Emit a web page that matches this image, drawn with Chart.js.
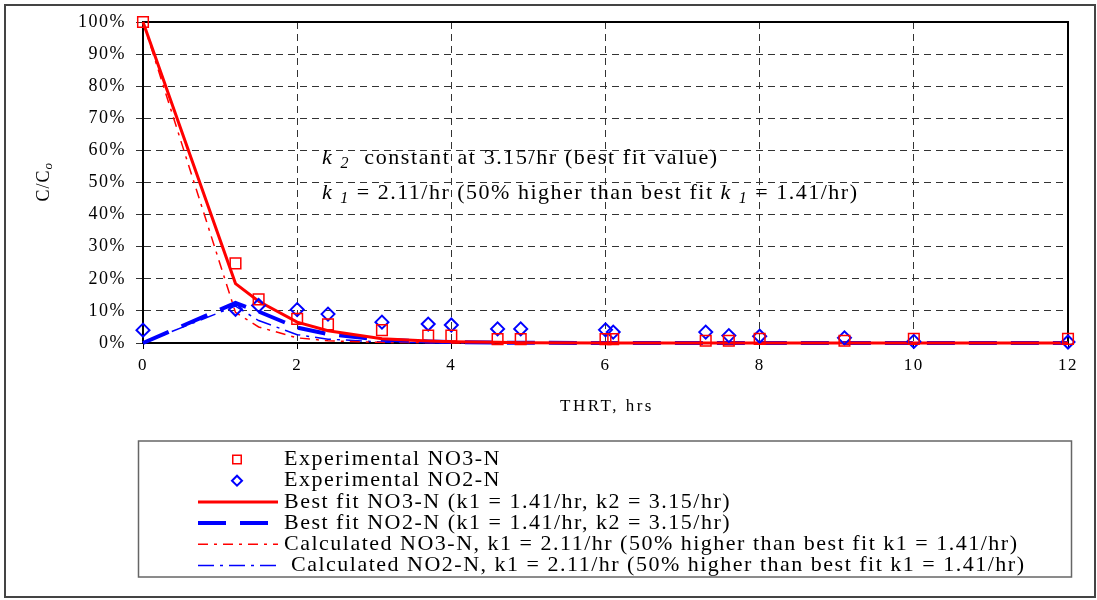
<!DOCTYPE html>
<html>
<head>
<meta charset="utf-8">
<script src="https://cdn.jsdelivr.net/npm/chart.js@4.4.1/dist/chart.umd.min.js"></script>
<style>
  html, body { margin: 0; padding: 0; background: #fff; }
  #wrap { width: 1097px; height: 600px; }
</style>
</head>
<body>
<div id="wrap"><canvas id="chart" width="1097" height="600"></canvas></div>
<script>
// sampling times, hrs
const thrt = [0, 1.2, 1.5, 2.0, 2.4, 3.1, 3.7, 4.0, 4.6, 4.9, 6.0, 6.1, 7.3, 7.6, 8.0, 9.1, 10.0, 12.0];

// C/Co in percent
const expNO3  = [100, 24.8, 13.6, 7.5, 5.8, 4.0, 2.3, 2.3, 1.2, 1.2, 1.2, 1.2, 0.7, 0.7, 1.3, 0.7, 1.3, 1.3];
const expNO2  = [4.0, 10.5, 11.7, 10.4, 9.0, 6.5, 5.9, 5.6, 4.4, 4.4, 4.1, 3.4, 3.4, 2.3, 2.1, 1.6, 0.5, 0.3];
const fitNO3  = [100, 18.5, 13.0, 6.5, 3.8, 1.3, 0.6, 0.4, 0.2, 0.1, 0, 0, 0, 0, 0, 0, 0, 0];
const fitNO2  = [0, 12.5, 9.8, 4.8, 2.8, 1.0, 0.5, 0.3, 0.1, 0.1, 0, 0, 0, 0, 0, 0, 0, 0];
const calcNO3 = [100, 9.5, 5.0, 1.6, 0.7, 0.2, 0.1, 0, 0, 0, 0, 0, 0, 0, 0, 0, 0, 0];
const calcNO2 = [0, 11.5, 7.0, 2.6, 1.2, 0.3, 0.1, 0, 0, 0, 0, 0, 0, 0, 0, 0, 0, 0];

const xTicks = [0, 2, 4, 6, 8, 10, 12];

const pts = arr => arr.map((v, i) => ({ x: thrt[i], y: v }));
const SERIF = '"Liberation Serif", "Times New Roman", serif';

// text with italic / subscript pieces
function drawRuns(ctx, runs, x, y, size) {
  runs.forEach(([t, style]) => {
    const sub = style === 'sub';
    const it = style === 'i' || sub;
    const fs = sub ? Math.round(size * 0.72) : size;
    ctx.font = (it ? 'italic ' : '') + fs + 'px ' + SERIF;
    ctx.fillText(t, x, y + (sub ? size * 0.28 : 0));
    x += ctx.measureText(t).width;
  });
}

const extras = {
  id: 'extras',
  beforeDraw(chart) {
    chart.ctx.letterSpacing = '1.5px';
  },
  beforeDatasetsDraw(chart) {
    const { ctx, chartArea: a } = chart;
    ctx.save();
    ctx.strokeStyle = '#000';
    ctx.lineWidth = 2;
    ctx.beginPath();
    ctx.moveTo(a.left, a.top);
    ctx.lineTo(a.right, a.top);
    ctx.lineTo(a.right, a.bottom);
    ctx.stroke();
    ctx.restore();
  },
  afterDraw(chart) {
    const ctx = chart.ctx;
    ctx.save();
    ctx.fillStyle = '#000';

    // annotation
    ctx.letterSpacing = '1.6px';
    ctx.textBaseline = 'middle';
    ctx.textAlign = 'left';
    drawRuns(ctx, [['k', 'i'], [' '], ['2', 'sub'], ['  constant at 3.15/hr (best fit value)']], 322, 158, 22);
    ctx.letterSpacing = '1.5px';
    drawRuns(ctx, [['k', 'i'], [' '], ['1', 'sub'], [' = 2.11/hr (50% higher than best fit '], ['k', 'i'], [' '], ['1', 'sub'], [' = 1.41/hr)']], 322, 193, 22);

    // x title
    ctx.letterSpacing = '2.5px';
    ctx.font = '17px ' + SERIF;
    ctx.textAlign = 'center';
    ctx.fillText('THRT, hrs', 607, 407);

    // y title C/Co
    ctx.save();
    ctx.translate(44, 182);
    ctx.rotate(-Math.PI / 2);
    ctx.letterSpacing = '1px';
    ctx.textAlign = 'left';
    ctx.font = '18px ' + SERIF;
    const w1 = ctx.measureText('C/C').width;
    ctx.font = '12px ' + SERIF;
    const w2 = ctx.measureText('o').width;
    drawRuns(ctx, [['C/C'], ['o', 'sub']], -(w1 + w2) / 2, 0, 18);
    ctx.restore();

    // frames
    ctx.strokeStyle = '#444';
    ctx.lineWidth = 2;
    ctx.strokeRect(5, 5, 1090, 592);
    ctx.strokeStyle = '#666';
    ctx.lineWidth = 1.5;
    ctx.strokeRect(138.5, 441, 933, 136);

    // legend rows
    ctx.textAlign = 'left';
    ctx.letterSpacing = '1.5px';
    ctx.font = '22px ' + SERIF;
    chart.data.datasets.forEach((ds, i) => {
      const y = 459.5 + i * 21.2;
      ctx.save();
      ctx.strokeStyle = ds.borderColor;
      ctx.fillStyle = 'rgba(0,0,0,0)';
      if (!ds.showLine) {
        ctx.lineWidth = ds.pointBorderWidth;
        Chart.helpers.drawPoint(ctx, { pointStyle: ds.pointStyle, radius: ds.pointRadius - 1.5, borderWidth: ds.pointBorderWidth, rotation: 0 }, 237, y);
      } else {
        ctx.lineWidth = ds.borderWidth;
        ctx.setLineDash(ds.borderDash || []);
        ctx.beginPath();
        ctx.moveTo(198, y);
        ctx.lineTo(278, y);
        ctx.stroke();
      }
      ctx.restore();
      ctx.fillText(ds.label, 284, y);
    });
    ctx.restore();
  }
};

new Chart(document.getElementById('chart'), {
  type: 'scatter',
  data: {
    datasets: [
      { label: 'Experimental NO3-N', data: pts(expNO3), showLine: false,
        pointStyle: 'rect', pointRadius: 7.5, pointBorderWidth: 1.5,
        borderColor: '#ff0000', pointBackgroundColor: 'rgba(0,0,0,0)' },
      { label: 'Experimental NO2-N', data: pts(expNO2), showLine: false,
        pointStyle: 'rectRot', pointRadius: 6.5, pointBorderWidth: 2,
        borderColor: '#0000ff', pointBackgroundColor: 'rgba(0,0,0,0)' },
      { label: 'Best fit NO3-N (k1 = 1.41/hr, k2 = 3.15/hr)', data: pts(fitNO3), showLine: true,
        borderColor: '#ff0000', borderWidth: 3, pointRadius: 0 },
      { label: 'Best fit NO2-N (k1 = 1.41/hr, k2 = 3.15/hr)', data: pts(fitNO2), showLine: true,
        borderColor: '#0000ff', borderWidth: 4, borderDash: [28, 14], pointRadius: 0 },
      { label: 'Calculated NO3-N, k1 = 2.11/hr (50% higher than best fit k1 = 1.41/hr)', data: pts(calcNO3), showLine: true,
        borderColor: '#ff0000', borderWidth: 1.5, borderDash: [10, 6, 3, 6], pointRadius: 0 },
      { label: ' Calculated NO2-N, k1 = 2.11/hr (50% higher than best fit k1 = 1.41/hr)', data: pts(calcNO2), showLine: true,
        borderColor: '#0000ff', borderWidth: 1.5, borderDash: [16, 6, 3, 6], pointRadius: 0 }
    ]
  },
  options: {
    responsive: false,
    animation: false,
    clip: false,
    layout: { padding: { left: 6, top: 22, right: 29, bottom: 217 } },
    plugins: { legend: { display: false }, tooltip: { enabled: false } },
    scales: {
      x: {
        type: 'linear', min: 0, max: 12,
        afterFit: s => { s.height = 40; },
        afterBuildTicks: s => { s.ticks = xTicks.map(v => ({ value: v })); },
        ticks: { color: '#000', font: { family: SERIF, size: 17 }, padding: 6 },
        grid: { color: '#333', lineWidth: 1, tickLength: 6, tickColor: '#000' },
        border: { display: true, color: '#000', width: 2, dash: [7, 5] }
      },
      y: {
        min: 0, max: 100,
        afterFit: s => { s.width = 137; },
        ticks: { stepSize: 10, color: '#000', font: { family: SERIF, size: 18 }, padding: 10,
                 callback: v => v + '%' },
        grid: { color: '#333', lineWidth: 1, tickLength: 7, tickColor: '#333' },
        border: { display: true, color: '#000', width: 2, dash: [7, 5] }
      }
    }
  },
  plugins: [extras]
});
</script>
</body>
</html>
